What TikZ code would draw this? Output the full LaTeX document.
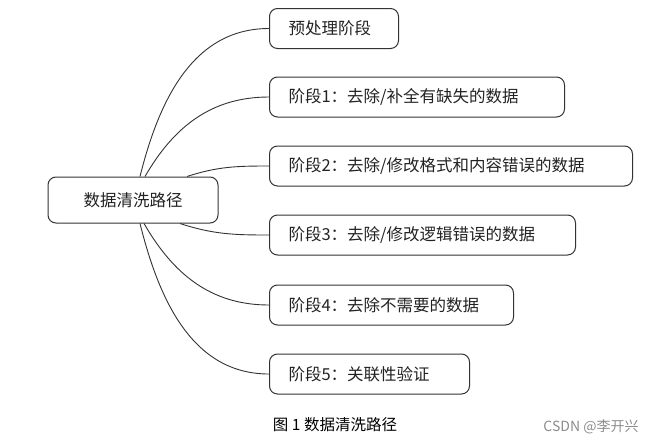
\documentclass[tikz,border=0pt]{standalone}
\usepackage{fontspec}
\setmainfont{Noto Sans CJK SC}
\definecolor{linecol}{HTML}{333333}
\definecolor{textcol}{HTML}{222222}
\begin{document}
\begin{tikzpicture}[x=1pt,y=1pt,
  stagebox/.style={draw=linecol, line width=1pt, rounded corners=8pt, minimum height=40pt,
    inner xsep=19pt, text width=#1, align=left, anchor=west, text=textcol,
    font=\fontsize{16.5}{18}\selectfont},
  link/.style={draw=linecol, line width=0.9pt}]
\useasboundingbox (0,0) rectangle (659,-445);

\node[draw=linecol, line width=1pt, rounded corners=8pt, minimum width=170pt, minimum height=46pt,
  text=textcol, font=\fontsize{16.5}{18}\selectfont] (root) at (133,-200) {数据清洗路径};

\node[stagebox=91pt]  (p0) at (269,-28.5) {预处理阶段};
\node[stagebox=257pt] (p1) at (269,-97)   {阶段1：去除/补全有缺失的数据};
\node[stagebox=325pt] (p2) at (269,-166)  {阶段2：去除/修改格式和内容错误的数据};
\node[stagebox=268pt] (p3) at (269,-235)  {阶段3：去除/修改逻辑错误的数据};
\node[stagebox=206pt] (p4) at (269,-305)  {阶段4：去除不需要的数据};
\node[stagebox=162pt] (p5) at (269,-374)  {阶段5：关联性验证};

\draw[link] ([xshift=7pt]root.north) to[out=76,in=180] (p0.west);
\draw[link] ([xshift=12pt]root.north) to[out=60,in=180] (p1.west);
\draw[link] ([xshift=54pt]root.north) to[out=18,in=180] (p2.west);
\draw[link] ([xshift=47pt]root.south) to[out=-18,in=180] (p3.west);
\draw[link] ([xshift=11pt]root.south) to[out=-60,in=180] (p4.west);
\draw[link] ([xshift=7pt]root.south) to[out=-76,in=180] (p5.west);

\node[font=\fontsize{15.5}{18}\selectfont, text=black] (cap) at (335,-425) {图~1~数据清洗路径};
\node[font=\fontsize{14}{16}\selectfont, text=black!45] (mark) at (591,-427) {CSDN @李开兴};
\end{tikzpicture}
\end{document}
